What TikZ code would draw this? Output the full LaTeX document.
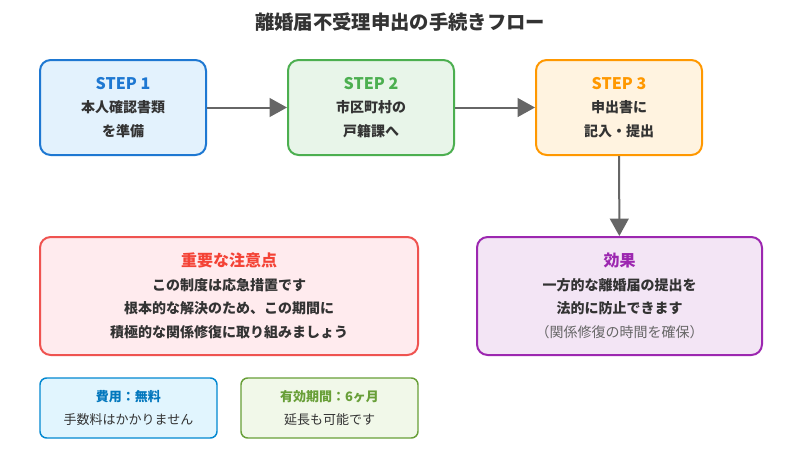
\documentclass[tikz,border=0pt]{standalone}
\usepackage{fontspec}
\setmainfont{Noto Sans CJK JP}
\usetikzlibrary{arrows.meta}

\definecolor{bluebd}{HTML}{1E78D2}
\definecolor{bluebg}{HTML}{E3F2FD}
\definecolor{greenbd}{HTML}{4CAF50}
\definecolor{greenbg}{HTML}{E8F5E9}
\definecolor{orangebd}{HTML}{FF9800}
\definecolor{orangebg}{HTML}{FFF3E0}
\definecolor{redbd}{HTML}{EF5350}
\definecolor{redtxt}{HTML}{F44336}
\definecolor{redbg}{HTML}{FFEBEE}
\definecolor{purplebd}{HTML}{9C27B0}
\definecolor{purplebg}{HTML}{F3E5F5}
\definecolor{costbd}{HTML}{0288D1}
\definecolor{costtxt}{HTML}{0277BD}
\definecolor{costbg}{HTML}{E1F5FE}
\definecolor{limebd}{HTML}{689F38}
\definecolor{limebg}{HTML}{F1F8E9}
\definecolor{textgray}{HTML}{333333}
\definecolor{arrowgray}{HTML}{666666}

\tikzset{
  box/.style={draw, rectangle, rounded corners=8pt, line width=1.5pt,
    align=center, text=textgray, inner sep=0pt,
    font=\fontsize{10.5}{17.6}\selectfont\bfseries},
  stepbox/.style={box, minimum width=124.5pt, minimum height=71.25pt},
  notebox/.style={box, minimum width=283.5pt, minimum height=88.5pt},
  smallbox/.style={box, line width=1.1pt, rounded corners=5pt,
    minimum width=132.75pt, minimum height=45pt,
    font=\fontsize{9.75}{17.6}\selectfont\bfseries},
  flow/.style={->, >={Triangle[length=13pt,width=14pt]}, line width=1.5pt, draw=arrowgray}
}

\begin{document}
\begin{tikzpicture}[x=0.75pt, y=-0.75pt]

\useasboundingbox[fill=white] (0,0) rectangle (800,461);

\node (title) at (400,22)
{\fontsize{14.5}{16}\selectfont\bfseries\color{textgray}離婚届不受理申出の手続きフロー};%

\node[stepbox, draw=bluebd, fill=bluebg] (s1) at (123,107.5)
{{\fontsize{12}{14}\selectfont\color{bluebd}STEP 1}\\本人確認書類\\を準備};%

\node[stepbox, draw=greenbd, fill=greenbg] (s2) at (371,107.5)
{{\fontsize{12}{14}\selectfont\color{greenbd}STEP 2}\\市区町村の\\戸籍課へ};%

\node[stepbox, draw=orangebd, fill=orangebg] (s3) at (619,107.5)
{{\fontsize{12}{14}\selectfont\color{orangebd}STEP 3}\\申出書に\\記入・提出};%

\node[notebox, draw=redbd, fill=redbg] (warn) at (229,296)
{{\fontsize{12}{14}\selectfont\color{redtxt}重要な注意点}\\この制度は応急措置です\\根本的な解決のため、この期間に\\積極的な関係修復に取り組みましょう};%

\node[notebox, minimum width=213.75pt, draw=purplebd, fill=purplebg] (effect) at (619.5,296)
{{\fontsize{12}{14}\selectfont\color{purplebd}効果}\\一方的な離婚届の提出を\\法的に防止できます\\{\mdseries\color{arrowgray}（関係修復の時間を確保）}};%

\node[smallbox, draw=costbd, fill=costbg] (cost) at (128.5,408)
{{\color{costtxt}費用：無料}\\{\mdseries 手数料はかかりません}};%

\node[smallbox, draw=limebd, fill=limebg] (period) at (329.5,408)
{{\color{limebd}有効期間：6ヶ月}\\{\mdseries 延長も可能です}};%

\draw[flow] (s1) -- (s2);
\draw[flow] (s2) -- (s3);
\draw[flow] (s3) -- (effect);

\end{tikzpicture}
\end{document}
